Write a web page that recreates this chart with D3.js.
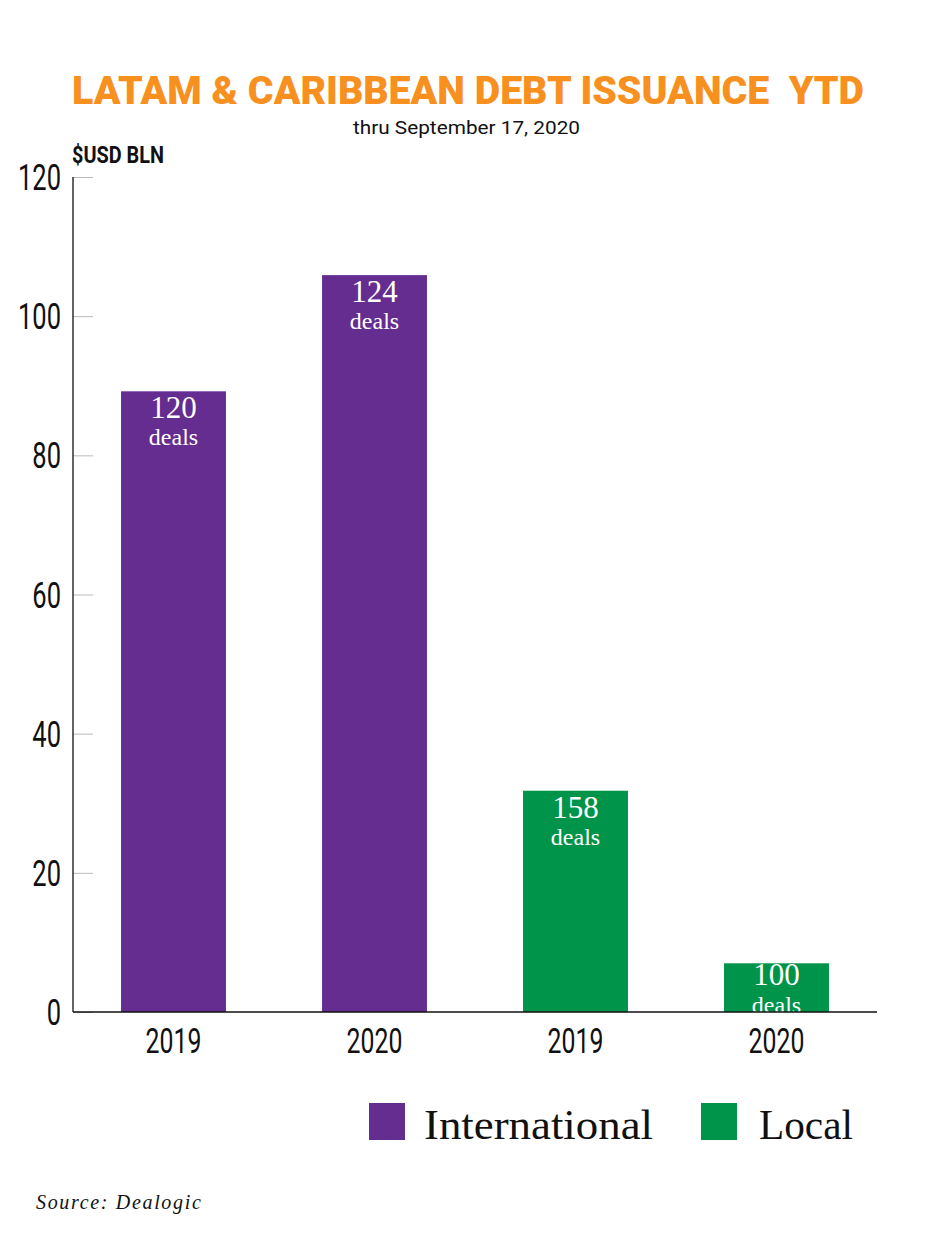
<!DOCTYPE html>
<html><head><meta charset="utf-8">
<script src="https://cdn.jsdelivr.net/npm/d3@7"></script>
<style>body{margin:0;background:#fff}</style>
</head><body>
<script>
const categories = ["2019", "2020", "2019", "2020"];
const series = ["International", "International", "Local", "Local"];
const values = [89.2, 105.9, 31.8, 7.0];
const deals = ["120", "124", "158", "100"];
const yTicks = [0, 20, 40, 60, 80, 100, 120];
const legendLabels = ["International", "Local"];
const colors = {International: "#652D90", Local: "#00944A"};

const W = 937, H = 1249;
const svg = d3.select("body").append("svg").attr("width", W).attr("height", H);
const cond = "Roboto, 'Liberation Sans', sans-serif";
const serif = "'Liberation Serif','DejaVu Serif',serif";
const SX = 0.69;

svg.append("text").attr("x", 468).attr("y", 104).attr("text-anchor", "middle")
  .style("white-space", "pre")
  .attr("font-family", "Roboto, 'Liberation Sans', sans-serif").attr("font-weight", 900)
  .attr("font-size", 39).attr("fill", "#F7901E")
  .attr("textLength", 792).attr("lengthAdjust", "spacingAndGlyphs")
  .text("LATAM & CARIBBEAN DEBT ISSUANCE  YTD");
svg.append("text").attr("x", 353).attr("y", 134)
  .attr("font-family", cond).attr("font-size", 19).attr("fill", "#111")
  .attr("textLength", 227).attr("lengthAdjust", "spacingAndGlyphs")
  .text("thru September 17, 2020");
svg.append("text").attr("x", 72).attr("y", 163)
  .attr("font-family", cond).attr("font-weight", 700).attr("font-size", 23).attr("fill", "#111")
  .attr("textLength", 92).attr("lengthAdjust", "spacingAndGlyphs")
  .text("$USD BLN");

const x = d3.scaleBand().domain(d3.range(categories.length)).range([73, 877])
  .paddingInner(0.478).paddingOuter(0.239);
const y = d3.scaleLinear().domain([0, 120]).range([1012, 177]);

// ticks
const yAxis = d3.axisRight(y).tickValues(yTicks).tickSize(20).tickFormat("");
const ga = svg.append("g").attr("transform", "translate(73,0)").call(yAxis);
ga.select(".domain").remove();
ga.selectAll(".tick line").attr("stroke", "#bbb");
svg.append("g").selectAll("text").data(yTicks).join("text")
  .attr("transform", d => `translate(61,${y(d) + 13}) scale(${SX},1)`)
  .attr("text-anchor", "end")
  .attr("font-family", cond).attr("font-size", 37).attr("fill", "#111")
  .text(d => d);

// bars
svg.append("g").selectAll("rect").data(values).join("rect")
  .attr("x", (d, i) => x(i)).attr("width", x.bandwidth())
  .attr("y", d => y(d)).attr("height", d => y(0) - y(d))
  .attr("fill", (d, i) => colors[series[i]]);

// clip paths for labels (labels stay inside their bars)
const defs = svg.append("defs");
values.forEach((d, i) => {
  defs.append("clipPath").attr("id", "clip" + i).append("rect")
    .attr("x", x(i)).attr("width", x.bandwidth())
    .attr("y", y(d)).attr("height", y(0) - y(d));
});

const lab = svg.append("g").selectAll("g").data(values).join("g")
  .attr("clip-path", (d, i) => `url(#clip${i})`);
const small = d => (y(0) - y(d)) < 60;
lab.append("text")
  .attr("x", (d, i) => x(i) + x.bandwidth() / 2)
  .attr("y", d => y(d) + (small(d) ? 22 : 27)).attr("text-anchor", "middle")
  .attr("font-family", serif).attr("font-size", 31).attr("fill", "#fff")
  .text((d, i) => deals[i]);
lab.append("text")
  .attr("x", (d, i) => x(i) + x.bandwidth() / 2)
  .attr("y", d => y(d) + (small(d) ? 50 : 54)).attr("text-anchor", "middle")
  .attr("font-family", serif).attr("font-size", 24).attr("fill", "#fff")
  .text("deals");

// axes lines
svg.append("line").attr("x1", 73).attr("x2", 73).attr("y1", 177).attr("y2", 1012)
  .attr("stroke", "#111").attr("stroke-width", 1.3);
svg.append("line").attr("x1", 73).attr("x2", 877).attr("y1", y(0)).attr("y2", y(0))
  .attr("stroke", "#111").attr("stroke-width", 1.3);

svg.append("g").selectAll("text").data(categories).join("text")
  .attr("transform", (d, i) => `translate(${x(i) + x.bandwidth() / 2},1053) scale(${SX},1)`)
  .attr("text-anchor", "middle")
  .attr("font-family", cond).attr("font-size", 36).attr("fill", "#111")
  .text(d => d);

// legend
const legX = [369, 701];
const legTL = [229, 94];
const lg = svg.append("g").selectAll("g").data(legendLabels).join("g")
  .attr("transform", (d, i) => `translate(${legX[i]},1103)`);
lg.append("rect").attr("width", 36).attr("height", 37).attr("fill", d => colors[d]);
lg.append("text").attr("x", (d, i) => i === 0 ? 55 : 58).attr("y", 36)
  .attr("font-family", serif).attr("font-size", 42).attr("fill", "#111")
  .attr("textLength", (d, i) => legTL[i]).attr("lengthAdjust", "spacingAndGlyphs")
  .text(d => d);

svg.append("text").attr("x", 36).attr("y", 1209)
  .attr("font-family", serif).attr("font-style", "italic").attr("font-size", 20)
  .attr("letter-spacing", 1.2).attr("fill", "#111")
  .attr("textLength", 166)
  .text("Source: Dealogic");
</script>
</body></html>
